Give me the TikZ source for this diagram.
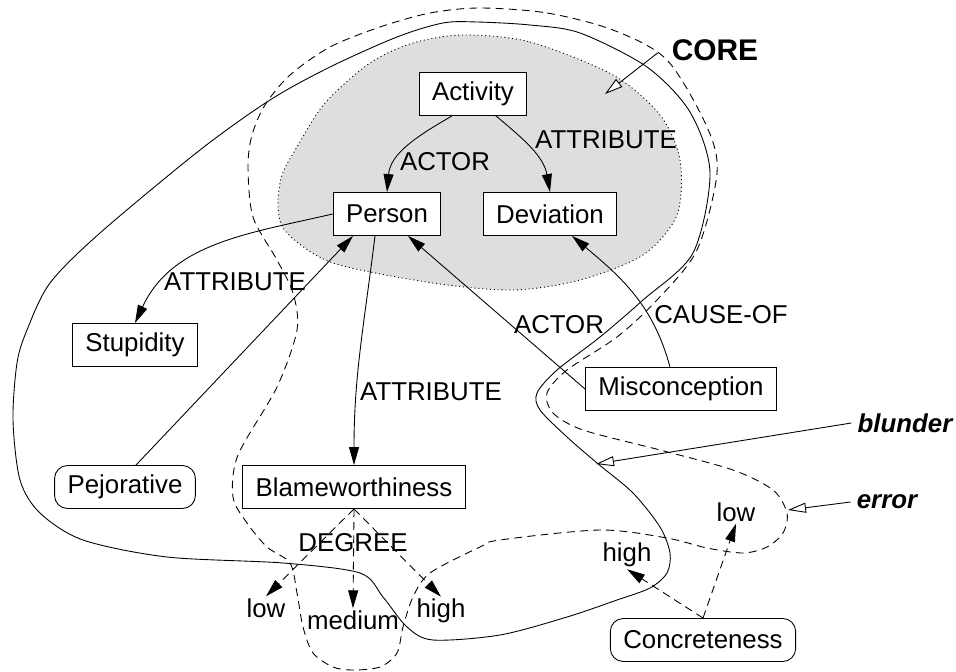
\documentclass[tikz,border=0pt]{standalone}
\usepackage{fontspec}
\setmainfont{Liberation Sans}
\usetikzlibrary{arrows.meta,calc}
\begin{document}
\begin{tikzpicture}[x=0.02cm,y=0.02cm,line width=0.5pt,
    every node/.style={font=\fontsize{14.7}{17}\selectfont},
    box/.style={draw,fill=white,minimum height=0.86cm,inner xsep=0.26cm},
    softbox/.style={box,rounded corners=0.26cm},
    lbl/.style={inner sep=1pt},
    tag/.style={font=\fontsize{14.7}{17}\selectfont\bfseries\itshape},
    loose/.style={dash pattern=on 4.5pt off 3pt},
    rel/.style={-{Triangle[length=0.36cm,width=0.2cm]}},
    dashrel/.style={rel,loose},
    pointer/.style={-{Triangle[open,length=0.36cm,width=0.2cm,fill=white]}}]
    \useasboundingbox (0,0) rectangle (956,-672);
    % shaded core
    \draw[fill=black!13, dash pattern=on 0.6pt off 1.6pt] plot[smooth cycle] coordinates {
        (463,-35) (530,-42) (613,-75) (660,-115) (680,-160) (677,-215) (643,-255)
        (580,-280) (513,-290) (433,-283) (333,-263) (287,-233) (278,-207)
        (282,-175) (297,-147) (325,-103) (370,-63) (413,-43)};
    % blunder outline
    \draw plot[smooth cycle] coordinates {
        (27,-330) (50,-283) (100,-233) (200,-150) (270,-100) (330,-67) (397,-37)
        (443,-23) (477,-22) (530,-25) (580,-33) (647,-67) (690,-112) (710,-173)
        (693,-253) (643,-300) (600,-337) (557,-370) (537,-393) (540,-410)
        (567,-437) (597,-463) (633,-493) (660,-527) (670,-553) (667,-573)
        (650,-588) (617,-600) (567,-617) (500,-635) (433,-640) (407,-627)
        (383,-597) (360,-573) (283,-563) (167,-557) (83,-540) (40,-513)
        (20,-480) (13,-420) (17,-363)};
    % error outline
    \draw[loose] plot[smooth cycle] coordinates {
        (480,-8) (547,-13) (613,-30) (667,-60) (707,-127) (717,-173) (697,-250)
        (657,-300) (617,-337) (567,-370) (547,-393) (553,-413) (583,-430)
        (660,-450) (733,-470) (773,-490) (787,-513) (783,-533) (767,-547)
        (743,-553) (707,-548) (667,-538) (600,-530) (500,-540) (480,-547)
        (430,-573) (413,-597) (403,-627) (397,-653) (380,-667) (353,-670)
        (333,-667) (313,-653) (303,-627) (297,-593) (290,-563) (267,-547)
        (247,-523) (233,-497) (238,-455) (277,-387) (297,-330) (293,-293)
        (277,-260) (253,-217) (248,-167) (252,-135) (265,-105) (290,-75)
        (330,-47) (380,-27) (430,-13)};
    % concepts
    \node[box] (activity) at (473,-94) {Activity};
    \node[box] (person) at (387,-214) {Person};
    \node[box] (deviation) at (550,-214) {Deviation};
    \node[box] (stupidity) at (135,-345) {Stupidity};
    \node[softbox] (pejorative) at (125,-487) {Pejorative};
    \node[box] (blame) at (354,-487) {Blameworthiness};
    \node[box] (misconception) at (681,-389) {Misconception};
    \node[softbox] (concreteness) at (703,-640) {Concreteness};
    \node[lbl] (blow) at (266,-608) {low};
    \node[lbl] (bmedium) at (353,-620) {medium};
    \node[lbl] (bhigh) at (441,-611) {high};
    \node[lbl] (chigh) at (627,-555) {high};
    \node[lbl] (clow) at (736,-512) {low};
    % relations
    \draw[rel] ($(activity.south)+(-21,0)$) to[out=210,in=85] (person.north);
    \draw[rel] ($(activity.south)+(23,0)$) to[out=-40,in=100] (deviation.north);
    \draw[rel] (person.west) to[out=193,in=65] (stupidity.north);
    \draw[rel] ($(pejorative.north)+(11,0)$) -- ($(person.south)+(-34,0)$);
    \draw[rel] ($(person.south)+(-12,0)$) to[out=-97,in=90] (blame.north);
    \draw[rel] (misconception.west) -- ($(person.south)+(21,0)$);
    \draw[rel] ($(misconception.north)+(-11,0)$) to[out=105,in=-40] ($(deviation.south)+(22,0)$);
    \draw[dashrel] (blame.south) -- (blow.north);
    \draw[dashrel] (blame.south) -- (bmedium.north);
    \draw[dashrel] (blame.south) -- (bhigh.north);
    \draw[dashrel] (concreteness.north) -- (chigh.south);
    \draw[dashrel] (concreteness.north) -- (clow.south);
    % relation labels
    \node (actorA) at (445,-162) {ACTOR};
    \node (attrA) at (606,-140) {ATTRIBUTE};
    \node (attrB) at (235,-282) {ATTRIBUTE};
    \node (actorB) at (559,-325) {ACTOR};
    \node (causeof) at (721,-315) {CAUSE-OF};
    \node (attrC) at (431,-392) {ATTRIBUTE};
    \node (degree) at (353,-543) {DEGREE};
    % pointers
    \node[font=\fontsize{17}{20}\selectfont\bfseries] (core) at (715,-50) {CORE};
    \node[tag] (blunder) at (905,-423) {blunder};
    \node[tag] (error) at (887,-502) {error};
    \coordinate (coretip) at (605,-94);
    \coordinate (blundertip) at (596,-464);
    \coordinate (errortip) at (788,-510);
    \draw[pointer] ($(core.west)+(-8,-3)$) -- (coretip);
    \draw[pointer] (blunder.west) -- (blundertip);
    \draw[pointer] (error.west) -- (errortip);
\end{tikzpicture}
\end{document}
